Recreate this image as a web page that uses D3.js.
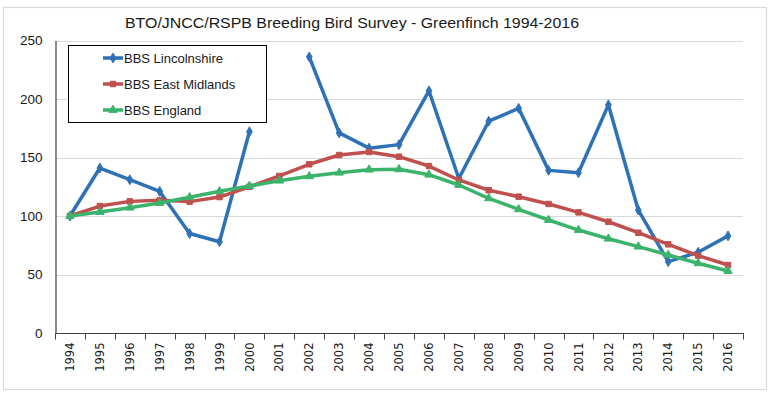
<!DOCTYPE html>
<html>
<head>
<meta charset="utf-8">
<script src="https://cdn.jsdelivr.net/npm/d3@7"></script>
<style>
  html, body { margin: 0; padding: 0; background: #fff; }
  svg { display: block; }
</style>
</head>
<body>
<svg id="chart" width="771" height="396"></svg>
<script>
// ---- data ----
const years = ["1994","1995","1996","1997","1998","1999","2000","2001","2002","2003","2004","2005","2006","2007","2008","2009","2010","2011","2012","2013","2014","2015","2016"];
const lincolnshire = [100, 141, 131, 121, 85, 78, 172, null, 236, 171, 158, 161, 207, 132, 181, 192, 139, 137, 195, 105, 61, 69, 83];
const eastMidlands = [100, 108.5, 112.5, 113.4, 112.3, 116.2, 125, 134.2, 144.2, 152.1, 154.7, 150.7, 142.7, 130.8, 122, 116.5, 110.3, 103.1, 95.1, 85.7, 75.8, 66.1, 58.1];
const england = [100, 103.4, 107.1, 111.1, 116, 121.1, 125.6, 130.2, 133.9, 137, 139.6, 139.9, 135.3, 126.5, 115.1, 105.7, 96.6, 88, 80.6, 73.8, 66.7, 59.6, 53];
const yTicks = [0, 50, 100, 150, 200, 250];
const seriesNames = ["BBS Lincolnshire", "BBS East Midlands", "BBS England"];
const chartTitle = "BTO/JNCC/RSPB Breeding Bird Survey - Greenfinch 1994-2016";

const series = [
  { name: seriesNames[0], values: lincolnshire, color: "#2e71b7", marker: d3.symbolDiamond, msize: 28 },
  { name: seriesNames[1], values: eastMidlands, color: "#c0504d", marker: d3.symbolSquare, msize: 30 },
  { name: seriesNames[2], values: england, color: "#3bb36b", marker: d3.symbolTriangle, msize: 30 }
];

const svg = d3.select("#chart");
const font = "'Liberation Sans', Arial, sans-serif";

// chart border
svg.append("rect")
  .attr("x", 3.5).attr("y", 7.5).attr("width", 763).attr("height", 382)
  .attr("fill", "#fff").attr("stroke", "#d9d9d9").attr("stroke-width", 1.2);

// title
svg.append("text")
  .attr("x", 352).attr("y", 27.5)
  .attr("text-anchor", "middle")
  .attr("font-family", font).attr("font-size", 15.5)
  .attr("fill", "#1a1a1a")
  .attr("textLength", 454).attr("lengthAdjust", "spacingAndGlyphs")
  .text(chartTitle);

const pLeft = 55, pRight = 743, pTop = 40.5, pBottom = 333;

const x = d3.scaleBand().domain(years).range([pLeft, pRight]);
const y = d3.scaleLinear().domain([0, 250]).range([pBottom, pTop]);

// gridlines
svg.append("g").selectAll("line").data(yTicks.filter(t => t > 0)).join("line")
  .attr("x1", pLeft).attr("x2", pRight)
  .attr("y1", d => Math.round(y(d)) + 0.5).attr("y2", d => Math.round(y(d)) + 0.5)
  .attr("stroke", "#d9d9d9").attr("stroke-width", 1);

// y axis
const yAxis = svg.append("g")
  .attr("transform", `translate(${pLeft + 0.5},0)`)
  .call(d3.axisLeft(y).tickValues(yTicks).tickSize(0).tickPadding(13));
yAxis.select(".domain").attr("stroke", "#404040").attr("stroke-width", 1.2);
yAxis.selectAll("text").attr("font-family", font).attr("font-size", 13.5).attr("fill", "#1a1a1a");

// x axis with ticks at band boundaries
const xg = svg.append("g").attr("transform", `translate(0,${pBottom + 0.5})`);
xg.append("line").attr("x1", pLeft).attr("x2", pRight + 1).attr("stroke", "#404040").attr("stroke-width", 1.2);
const bounds = years.map(d => x(d)).concat([x(years[years.length - 1]) + x.bandwidth()]);
xg.selectAll("line.tick").data(bounds).join("line").attr("class", "tick")
  .attr("x1", d => Math.round(d) + 0.5).attr("x2", d => Math.round(d) + 0.5)
  .attr("y1", 0).attr("y2", 6)
  .attr("stroke", "#404040").attr("stroke-width", 1);
xg.selectAll("text").data(years).join("text")
  .attr("transform", d => `translate(${x(d) + x.bandwidth() / 2},9) rotate(-90)`)
  .attr("text-anchor", "end").attr("dy", "0.36em")
  .attr("font-family", "'DejaVu Sans', Verdana, sans-serif").attr("font-size", 11.5)
  .attr("fill", "#1a1a1a")
  .text(d => d);

const cx = d => x(d) + x.bandwidth() / 2;

// lines
series.forEach(s => {
  const pts = years.map((yr, i) => ({ yr, v: s.values[i] }));
  const line = d3.line().defined(d => d.v != null).x(d => cx(d.yr)).y(d => y(d.v));
  svg.append("path").datum(pts)
    .attr("d", line).attr("fill", "none")
    .attr("stroke", s.color).attr("stroke-width", 3.5)
    .attr("stroke-linejoin", "round").attr("stroke-linecap", "round");
  svg.append("g").selectAll("path").data(pts.filter(d => d.v != null)).join("path")
    .attr("d", d3.symbol().type(s.marker).size(s.msize))
    .attr("transform", d => `translate(${cx(d.yr)},${y(d.v)})`)
    .attr("fill", s.color).attr("stroke", s.color).attr("stroke-width", 1);
});

// legend
const lg = svg.append("g");
lg.append("rect").attr("x", 68.5).attr("y", 45.5).attr("width", 198).attr("height", 77)
  .attr("fill", "#fff").attr("stroke", "#000").attr("stroke-width", 1);
const ly = [58, 84, 110];
series.forEach((s, i) => {
  lg.append("line").attr("x1", 103).attr("x2", 123).attr("y1", ly[i]).attr("y2", ly[i])
    .attr("stroke", s.color).attr("stroke-width", 3.5);
  lg.append("path").attr("d", d3.symbol().type(s.marker).size(s.msize))
    .attr("transform", `translate(113,${ly[i]})`).attr("fill", s.color).attr("stroke", s.color);
  lg.append("text").attr("x", 124).attr("y", ly[i]).attr("dy", "0.35em")
    .attr("font-family", font).attr("font-size", 13).attr("fill", "#1a1a1a")
    .text(s.name);
});
</script>
</body>
</html>
